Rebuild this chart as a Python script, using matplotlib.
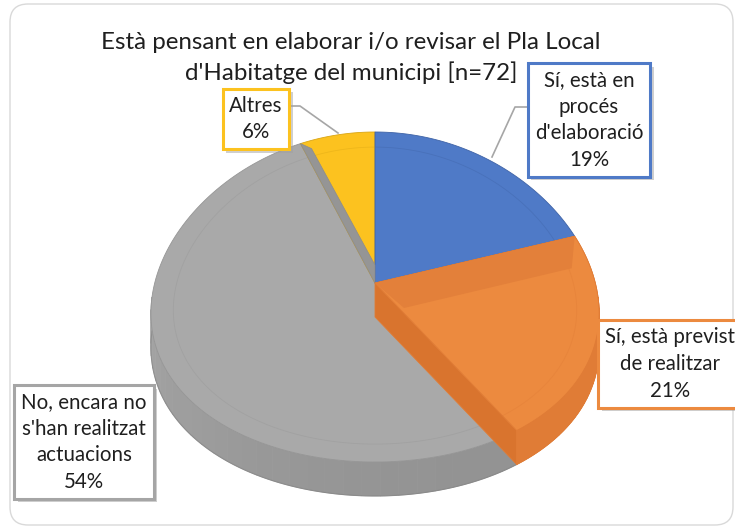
import numpy as np
import matplotlib.pyplot as plt
import matplotlib.patheffects as pe
from matplotlib.colors import to_rgb
from matplotlib.patches import Polygon, FancyBboxPatch

# data
labels = ["Sí, està en\nprocés\nd'elaboració", "Sí, està previst\nde realitzar",
          "No, encara no\ns'han realitzat\nactuacions", "Altres"]
shares = [19, 21, 54, 6]
top_colors = ["#4F7AC7", "#EC8A3F", "#A9A9A9", "#FCC21F"]
side_colors = ["#3F63A6", "#E07C36", "#969696", "#D9A514"]
cut_colors = ["#456EB6", "#D9742E", "#959595", "#E6AE18"]
title = "Està pensant en elaborar i/o revisar el Pla Local\nd'Habitatge del municipi [n=72]"

# pie layout (pixels, y grows downward)
cx, cy = 375, 297
rx, ry = 223, 165
apex_y = 283
depth = 34
persp = 0.1

plt.rcParams['font.family'] = ['Lato', 'DejaVu Sans']

fig = plt.figure(figsize=(7.35, 5.29), dpi=100)
ax = fig.add_axes([0, 0, 1, 1])
ax.set_xlim(0, 735)
ax.set_ylim(529, 0)
ax.axis("off")

# outer frame
ax.add_patch(FancyBboxPatch((10, 4), 723, 521,
                            boxstyle="round,pad=0,rounding_size=18",
                            facecolor="white", edgecolor="#D9D9D9",
                            linewidth=1.0, zorder=0))


def rim(theta, r=1.0):
    t = np.radians(theta)
    x = cx + r * rx * np.sin(t) * (1 - persp * np.cos(t))
    y = cy - r * ry * np.cos(t)
    return x, y


def shade(color, theta):
    # lighter toward the left of the wall, darker toward the front-right
    f = 1.06 - 0.08 * np.cos(np.radians(theta - 150))
    return tuple(np.clip(np.array(to_rgb(color)) * f, 0, 1))


bounds = np.concatenate([[0], np.cumsum(shares)]) / sum(shares) * 360

# side walls (front half only), drawn in thin strips for a soft gradient
order = [2, 3, 0, 1]
for i in order:
    a, b = bounds[i], bounds[i + 1]
    lo, hi = max(a, 90), min(b, 270)
    if lo < hi:
        edges = np.linspace(lo, hi, 30)
        for t0, t1 in zip(edges[:-1], edges[1:]):
            th = np.linspace(t0, t1, 6)
            x, y = rim(th)
            pts = np.column_stack([np.r_[x, x[::-1]], np.r_[y, y[::-1] + depth]])
            c = shade(side_colors[i], (t0 + t1) / 2)
            ax.add_patch(Polygon(pts, closed=True, facecolor=c, edgecolor=c,
                                 linewidth=0.6, zorder=2))
        th = np.linspace(lo, hi, 80)
        x, y = rim(th)
        ax.plot(x, y + depth, color="#808080" if i == 2 else side_colors[i],
                lw=0.8, alpha=0.6, zorder=2)

# tops
for i in order:
    a, b = bounds[i], bounds[i + 1]
    th = np.linspace(a, b, 120)
    x, y = rim(th)
    pts = np.column_stack([np.r_[cx, x], np.r_[apex_y, y]])
    ax.add_patch(Polygon(pts, closed=True, facecolor=top_colors[i],
                         edgecolor=side_colors[i], linewidth=0.6, zorder=3))
    # faint bevel ring
    x2, y2 = rim(th, 0.9)
    ax.plot(x2, y2 - 1.4, color=side_colors[i], lw=0.6, alpha=0.4, zorder=4)

# darker strip on grey next to the yellow slice
xg, yg = rim(bounds[3])
ax.add_patch(Polygon([(xg, yg), (xg + 11, yg + 5), (cx, apex_y - 18), (cx, apex_y)],
                     closed=True, facecolor=cut_colors[2], edgecolor="#8C8C8C",
                     linewidth=0.5, zorder=4))

# orange cut face along the grey boundary
b = bounds[2]
xr, yr = rim(b)
cut = [(cx, apex_y), (xr, yr), (xr, yr + depth), (cx, apex_y + depth)]
ax.add_patch(Polygon(cut, closed=True, facecolor=cut_colors[1],
                     edgecolor=side_colors[1], linewidth=0.6, zorder=5))
th = np.linspace(max(bounds[1], 90), b, 80)
x, y = rim(th)
ax.add_patch(Polygon(np.column_stack([np.r_[x, x[::-1]], np.r_[y, y[::-1] + depth]]),
                     closed=True, facecolor=side_colors[1], edgecolor=side_colors[1],
                     linewidth=0.5, zorder=5))
th = np.linspace(bounds[1], b, 120)
x, y = rim(th)
ax.add_patch(Polygon(np.column_stack([np.r_[cx, x], np.r_[apex_y, y]]), closed=True,
                     facecolor=top_colors[1], edgecolor=side_colors[1], linewidth=0.6, zorder=6))
x2, y2 = rim(th, 0.9)
ax.plot(x2, y2 - 1.4, color=side_colors[1], lw=0.6, alpha=0.4, zorder=7)
# bevel band along the blue boundary
xb, yb = rim(bounds[1])
ax.add_patch(Polygon([(cx, apex_y), (xb, yb), (xb - 3, yb + 32), (cx + 29, apex_y + 25)],
                     closed=True, facecolor="#E3803A", edgecolor="none", zorder=7))

# title
ax.text(351, 58, title, ha="center", va="center", fontsize=17.4, color="#1F1F1F",
        linespacing=1.47, zorder=10)

# data labels
label_pos = [(589, 120), (670, 364), (84, 442), (256, 119)]
shadow = [pe.SimplePatchShadow(offset=(2.5, -2.5), shadow_rgbFace="#A0A0A0", alpha=0.5),
          pe.Normal()]
for i, (lx, ly) in enumerate(label_pos):
    txt = f"{labels[i]}\n{shares[i]}%"
    edge = "#A5A5A5" if i == 2 else top_colors[i]
    t = ax.text(lx, ly, txt, ha="center", va="center", fontsize=14.8,
                color="#1F1F1F", linespacing=1.42, zorder=11,
                bbox=dict(boxstyle="square,pad=0.33", facecolor="white",
                          edgecolor=edge, linewidth=2.2))
    t.get_bbox_patch().set_path_effects(shadow)

# leader lines
ax.plot([290, 300, 338], [106, 106, 133], color="#A6A6A6", lw=1.2, zorder=8)
ax.plot([527, 515, 492], [107, 107, 157], color="#A6A6A6", lw=1.2, zorder=8)

fig.savefig("out.png", dpi=100)
